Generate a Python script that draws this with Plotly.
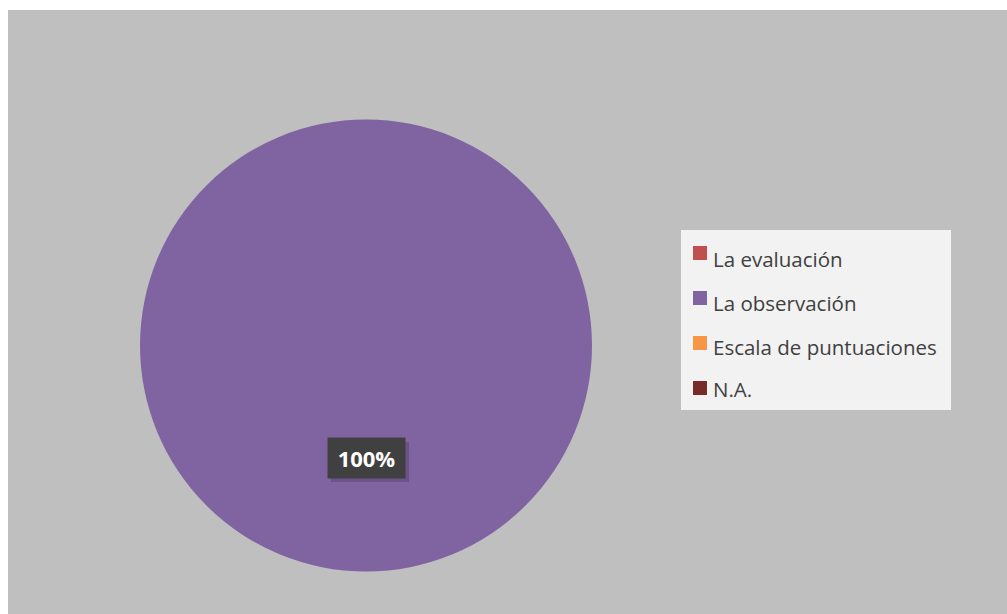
import plotly.graph_objects as go

labels = ["La evaluación", "La observación", "Escala de puntuaciones", "N.A."]
values = [0, 100, 0, 0]
colors = ["#c0504d", "#8064a2", "#f79646", "#772c2a"]

W, H = 1007, 614
def px(x):
    return x / W
def py(y):
    return 1 - y / H

fig = go.Figure()
fig.add_trace(go.Pie(
    labels=labels, values=values,
    marker=dict(colors=colors, line=dict(width=0)),
    textinfo="none", sort=False, direction="clockwise",
    showlegend=False, hoverinfo="label+percent",
    domain=dict(x=[px(140), px(592)], y=[py(572), py(119)]),
))

shapes = [
    dict(type="rect", xref="paper", yref="paper", x0=px(8), x1=1, y0=0, y1=py(10),
         fillcolor="#bfbfbf", line=dict(width=0), layer="below"),
    dict(type="rect", xref="paper", yref="paper", x0=px(681), x1=px(951), y0=py(410), y1=py(230),
         fillcolor="#f2f2f2", line=dict(width=0), layer="below"),
    # soft shadow behind the data label box
    dict(type="rect", xref="paper", yref="paper", x0=px(331), x1=px(409), y0=py(482), y1=py(442),
         fillcolor="rgba(40,30,60,0.25)", line=dict(width=0), layer="above"),
]
annotations = []
sq_top = [246, 291, 336, 381]
txt_y = [259, 303, 347, 389]
for lab, col, st, ty in zip(labels, colors, sq_top, txt_y):
    shapes.append(dict(type="rect", xref="paper", yref="paper",
                       x0=px(693), x1=px(707), y0=py(st + 14), y1=py(st),
                       fillcolor=col, line=dict(width=0)))
    annotations.append(dict(x=px(711), y=py(ty), xref="paper", yref="paper",
                            text=lab, showarrow=False, xanchor="left", yanchor="middle",
                            font=dict(family="Open Sans, Noto Sans, sans-serif", size=20.5, color="#404040")))

total = sum(values)
main = values.index(max(values))
pct = f"{round(100 * values[main] / total)}%"
annotations.append(dict(x=px(366.5), y=py(458), xref="paper", yref="paper",
                        text=f"<b>{pct}</b>", showarrow=False,
                        xanchor="center", yanchor="middle",
                        font=dict(family="Open Sans, Noto Sans, sans-serif", size=22, color="white"),
                        bgcolor="#404040", borderpad=8, width=61, height=24))

fig.update_layout(
    width=W, height=H, margin=dict(l=0, r=0, t=0, b=0),
    paper_bgcolor="white", plot_bgcolor="white",
    shapes=shapes, annotations=annotations, showlegend=False,
)
fig.write_html("out.html")
